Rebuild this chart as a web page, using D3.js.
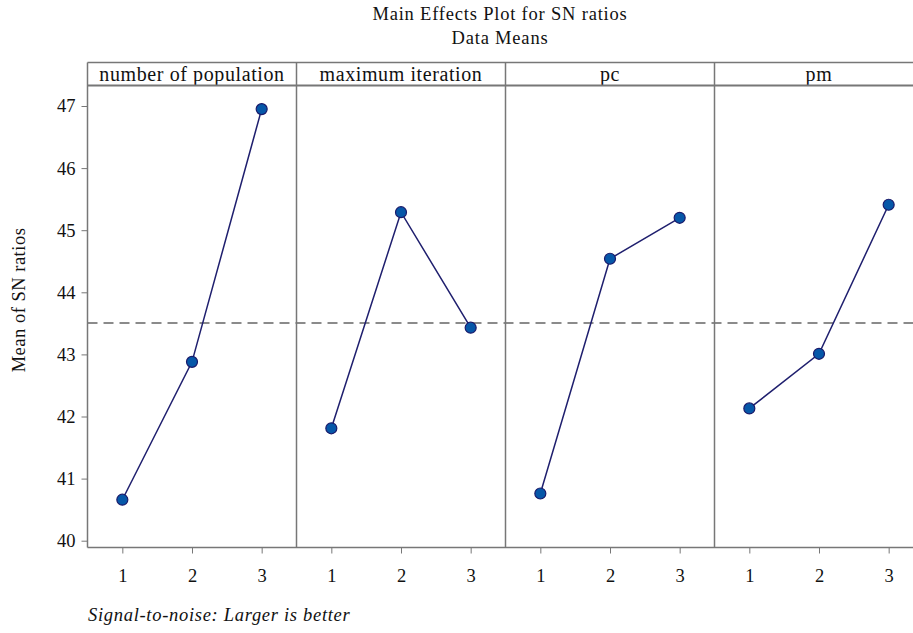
<!DOCTYPE html>
<html>
<head>
<meta charset="utf-8">
<script src="https://cdn.jsdelivr.net/npm/d3@7"></script>
<style>
  html, body { margin: 0; padding: 0; background: #fff; }
  svg { display: block; font-family: "Liberation Serif", "DejaVu Serif", serif; }
</style>
</head>
<body>
<svg id="chart" width="913" height="633"></svg>
<script>
// ---- data ----
const factors = ["number of population", "maximum iteration", "pc", "pm"];
const levels = [1, 2, 3];
const populationMeans = [40.66, 42.88, 46.95];
const iterationMeans = [41.81, 45.29, 43.43];
const pcMeans = [40.76, 44.54, 45.20];
const pmMeans = [42.13, 43.01, 45.41];
const yTicks = [40, 41, 42, 43, 44, 45, 46, 47];
const titleLines = ["Main Effects Plot for SN ratios", "Data Means"];
const yLabel = "Mean of SN ratios";
const footnote = "Signal-to-noise: Larger is better";

const seriesMeans = [populationMeans, iterationMeans, pcMeans, pmMeans];
const grandMean = d3.mean(seriesMeans.flat());

// ---- layout ----
const svg = d3.select("#chart");
const left = 87.5, panelW = 209, headerTop = 62.5, headerBot = 85.5, bottom = 547.5;
const gray = "#777";
const FONT = "Liberation Serif, DejaVu Serif, serif";

const y = d3.scaleLinear().domain([40, 47]).range([540.7, 106]);
const panelX = d3.scaleBand().domain(factors).range([left, left + panelW * factors.length]).padding(0);

// title
svg.selectAll("text.title").data(titleLines).join("text")
  .attr("class", "title")
  .attr("x", 500).attr("y", (d, i) => 20 + i * 24)
  .attr("text-anchor", "middle")
  .attr("font-size", 18.5).attr("letter-spacing", 0.8).attr("fill", "#111")
  .text(d => d);

// y label
svg.append("text")
  .attr("transform", "translate(25,300) rotate(-90)")
  .attr("text-anchor", "middle")
  .attr("font-size", 18.5).attr("letter-spacing", 0.5).attr("fill", "#111")
  .text(yLabel);

// y axis
const yAxis = d3.axisLeft(y).tickValues(yTicks).tickSize(6).tickPadding(6).tickFormat(d3.format("d"));
const gy = svg.append("g").attr("transform", `translate(${left},0)`).call(yAxis);
gy.select(".domain").remove();
gy.selectAll(".tick line").attr("stroke", gray);
gy.selectAll(".tick text").attr("font-size", 18.5).attr("fill", "#111").attr("font-family", FONT);

// dashed grand mean line
svg.append("line")
  .attr("x1", left).attr("x2", left + panelW * factors.length)
  .attr("y1", y(grandMean)).attr("y2", y(grandMean))
  .attr("stroke", "#666").attr("stroke-width", 1.3).attr("stroke-dasharray", "10,6");

// panels
factors.forEach((f, i) => {
  const x0 = panelX(f);
  const x = d3.scaleLinear().domain([0.5, 3.5]).range([x0, x0 + panelW]);
  const g = svg.append("g");

  // header text
  g.append("text")
    .attr("x", x0 + panelW / 2).attr("y", 80.5)
    .attr("text-anchor", "middle")
    .attr("font-size", 20).attr("letter-spacing", 0.6).attr("fill", "#111")
    .text(f);

  // x axis
  const xAxis = d3.axisBottom(x).tickValues(levels).tickSize(6).tickPadding(15).tickFormat(d3.format("d"));
  const gx = g.append("g").attr("transform", `translate(0,${bottom})`).call(xAxis);
  gx.select(".domain").remove();
  gx.selectAll(".tick line").attr("stroke", gray);
  gx.selectAll(".tick text").attr("font-size", 18.5).attr("fill", "#111").attr("font-family", FONT);

  // line
  const vals = seriesMeans[i];
  const pts = levels.map((l, k) => [x(l), y(vals[k])]);
  g.append("path")
    .attr("d", d3.line()(pts))
    .attr("fill", "none").attr("stroke", "#1f1f6e").attr("stroke-width", 1.5);

  g.selectAll("circle").data(levels).join("circle")
    .attr("cx", l => x(l)).attr("cy", (l, k) => y(vals[k]))
    .attr("r", 5.5)
    .attr("fill", "#0657a8").attr("stroke", "#1a1a6a").attr("stroke-width", 1.2);
});

// frame lines
const right = left + panelW * factors.length;
svg.append("line").attr("x1", left).attr("x2", right).attr("y1", headerTop).attr("y2", headerTop)
  .attr("stroke", gray).attr("stroke-width", 1.5);
svg.append("line").attr("x1", left).attr("x2", right).attr("y1", headerBot).attr("y2", headerBot)
  .attr("stroke", gray).attr("stroke-width", 2);
svg.append("line").attr("x1", left).attr("x2", right).attr("y1", bottom).attr("y2", bottom)
  .attr("stroke", gray).attr("stroke-width", 1.5);
svg.selectAll("line.div").data(d3.range(factors.length + 1)).join("line")
  .attr("class", "div")
  .attr("x1", i => left + i * panelW).attr("x2", i => left + i * panelW)
  .attr("y1", headerTop).attr("y2", bottom)
  .attr("stroke", gray).attr("stroke-width", 1.5);

// footnote
svg.append("text")
  .attr("x", 88).attr("y", 621)
  .attr("font-size", 18.5).attr("font-style", "italic").attr("letter-spacing", 0.7).attr("fill", "#111")
  .text(footnote);
</script>
</body>
</html>
